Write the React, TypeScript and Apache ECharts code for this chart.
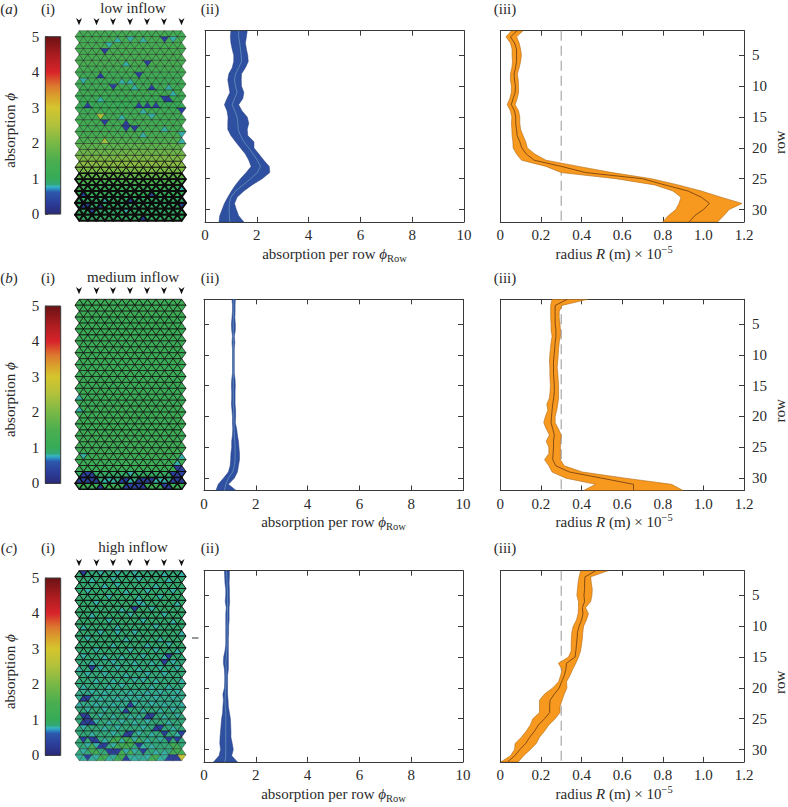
import React, { useEffect, useRef } from "react";
import * as echarts from "echarts";

const FONT = "Liberation Serif";
const INK = "#2a2a2a";
const FS = 15;

// ---- data ----
const rows = [1,2,3,4,5,6,7,8,9,10,11,12,13,14,15,16,17,18,19,20,21,22,23,24,25,26,27,28,29,30,31,32];
const rowTicks = [5,10,15,20,25,30];
const thresholdRadius = 0.3;
const panelLetters = ["a","b","c"];
const inflowLabels = ["low inflow","medium inflow","high inflow"];

const lowPhiLeft = [1.0,.98,1.0,1.05,1.11,1.11,1.05,.92,.88,.92,.96,.85,.75,.85,.89,.88,.88,1.0,1.18,1.37,1.56,1.69,1.78,1.59,1.37,1.18,1.02,.88,.75,.66,.57,.54];
const lowPhiMid = [1.3,1.3,1.34,1.37,1.4,1.41,1.3,1.18,1.14,1.18,1.24,1.14,1.05,1.15,1.24,1.27,1.28,1.37,1.5,1.69,1.86,2.02,2.14,2.02,1.76,1.47,1.18,1.0,.94,.93,.94,.96];
const lowPhiRight = [1.63,1.6,1.56,1.6,1.65,1.67,1.56,1.41,1.4,1.41,1.5,1.46,1.3,1.43,1.63,1.69,1.63,1.65,1.89,1.89,2.08,2.27,2.48,2.5,2.21,1.82,1.5,1.24,1.14,1.21,1.3,1.5];

const medPhiLeft = [1.08,1.1,1.1,1.08,1.06,1.07,1.1,1.08,1.1,1.1,1.1,1.1,1.1,1.07,1.06,1.07,1.07,1.06,1.08,1.1,1.1,1.11,1.1,1.07,1.07,1.04,1.03,1.01,.94,.75,.55,.46];
const medPhiMid = [1.15,1.15,1.15,1.13,1.13,1.13,1.13,1.13,1.13,1.13,1.13,1.13,1.13,1.13,1.13,1.13,1.13,1.13,1.15,1.15,1.16,1.16,1.17,1.19,1.2,1.2,1.2,1.17,1.11,.94,.84,.79];
const medPhiRight = [1.21,1.2,1.2,1.19,1.21,1.21,1.17,1.19,1.17,1.17,1.17,1.17,1.17,1.2,1.21,1.2,1.2,1.2,1.22,1.22,1.21,1.26,1.29,1.33,1.35,1.37,1.37,1.33,1.29,1.17,.94,1.24];

const highPhiLeft = [.79,.8,.81,.84,.84,.82,.86,.84,.84,.84,.84,.84,.84,.81,.76,.75,.79,.8,.8,.79,.73,.75,.73,.72,.68,.66,.64,.62,.61,.64,.58,.37];
const highPhiMid = [.86,.88,.89,.9,.91,.91,.91,.9,.9,.89,.89,.89,.89,.88,.86,.84,.86,.85,.85,.84,.82,.82,.82,.84,.84,.84,.84,.84,.84,.84,.84,.81];
const highPhiRight = [.98,.98,.97,.98,.98,.99,.97,.97,.97,.95,.95,.94,.94,.94,.94,.94,.94,.91,.91,.91,.91,.93,.94,.98,1.02,1.03,1.04,1.04,1.09,1.13,1.07,1.29];

const lowRadiusLeft = [.055,.028,.05,.058,.058,.06,.057,.05,.05,.055,.054,.047,.034,.05,.057,.055,.057,.058,.062,.063,.08,.105,.225,.30,.57,.76,.85,.89,.88,.864,.827,.80];
const lowRadiusMid = [.083,.05,.07,.08,.08,.08,.075,.068,.07,.075,.073,.063,.054,.07,.076,.076,.08,.083,.096,.106,.128,.167,.30,.42,.70,.81,.925,.99,1.03,1.0,.957,.93];
const lowRadiusRight = [.112,.08,.093,.10,.104,.10,.093,.084,.088,.09,.09,.083,.073,.09,.096,.096,.10,.112,.125,.133,.17,.225,.385,.55,.745,.875,.99,1.087,1.19,1.127,1.10,1.07];

const medRadiusLeft = [.255,.248,.248,.248,.25,.25,.255,.25,.247,.244,.242,.244,.244,.245,.247,.245,.242,.229,.234,.222,.214,.226,.242,.226,.239,.239,.218,.239,.255,.323,.47,.41];
const medRadiusMid = [.33,.27,.27,.27,.27,.274,.274,.27,.268,.265,.262,.262,.262,.264,.266,.266,.263,.258,.255,.252,.25,.258,.266,.262,.262,.26,.258,.274,.34,.50,.656,.656];
const medRadiusRight = [.43,.303,.29,.29,.294,.296,.296,.29,.287,.285,.283,.28,.283,.285,.287,.287,.287,.283,.278,.27,.27,.286,.30,.296,.296,.296,.296,.315,.404,.615,.843,.90];

const highRadiusLeft = [.396,.388,.383,.38,.377,.385,.385,.383,.375,.359,.352,.35,.349,.349,.336,.286,.304,.297,.287,.258,.218,.193,.193,.193,.16,.148,.128,.104,.073,.07,.05,.003];
const highRadiusMid = [.47,.417,.415,.415,.412,.415,.404,.407,.40,.388,.38,.378,.375,.372,.368,.326,.323,.315,.302,.29,.266,.245,.243,.243,.218,.188,.169,.145,.125,.096,.071,.036];
const highRadiusRight = [.53,.445,.448,.453,.451,.445,.42,.434,.424,.41,.406,.404,.40,.395,.385,.372,.356,.343,.326,.328,.315,.304,.294,.294,.27,.239,.218,.193,.177,.148,.115,.088];

// Cells of each mesh that differ from their row's mean: [row, absorption, columns]
const lowMeshCells: [number, number, number[]][] = [
  [1,.35,[20]],[3,.35,[6]],[5,.35,[16]],[7,.35,[5,14]],[9,.35,[8,17]],[11,.35,[20,21]],[12,.35,[2,14,16,18]],[13,.35,[24]],[15,.35,[6,11]],[16,.35,[11,13]],
  [27,.35,[1,17]],[28,.35,[12]],[29,.35,[1,2,5,24]],[30,.35,[3]],[31,.35,[15]],
  [1,.8,[9,12,15,22]],[2,.8,[7]],[5,.8,[11]],[8,.8,[1,10,12]],[9,.8,[13,21]],[10,.8,[22]],[11,.8,[5]],[13,.8,[15]],[14,.8,[10,17]],[16,.8,[20]],[17,.8,[15,24]],[18,.8,[24]],[26,.8,[24]],[28,.8,[6]],[30,.8,[11]],
  [14,2.5,[5]],[18,2.4,[6]],
];
const medMeshCells: [number, number, number[]][] = [
  [16,.8,[0]],[18,.8,[0]],[26,.8,[1,24]],[27,.8,[23]],[29,.8,[12]],[30,.8,[6,7,8,12,18,19,20]],
  [31,1.15,[0,1,2,3,4,6,7,8,9,10,16,17,18,19,22,23,24]],
  [28,.35,[23,24]],[29,.35,[1,2,3,22,23,24]],[30,.35,[0,1,2,3,4,10,11,14,15,16,17,22,23,24]],[31,.35,[5,11,12,13,14,15,20,21]],
];
const highMeshCells: [number, number, number[]][] = [
  [0,.8,[5,9,13,20,24]],[1,.8,[3,8,14,21]],[2,.8,[6,9,18]],[3,.8,[2,11,16,22]],[4,.8,[7,14,19]],[5,.8,[4,14,15,23]],[6,.8,[10,17]],[7,.8,[3,12,20]],
  [8,.8,[7,15,22]],[9,.8,[1,9,18]],[10,.8,[5,9,13,24]],[11,.8,[2,11,19]],[12,.8,[8,16,21]],[13,.8,[4,12,18,23]],[14,.8,[1,6,10,15,20]],[15,.8,[3,8,13,17,22]],
  [16,.8,[0,5,9,14,19,23]],[17,.8,[2,6,11,16,20]],[18,.8,[4,8,13,15,18,24]],[19,.8,[1,7,10,17,21]],[20,.8,[3,6,12,16,19,23]],[21,.8,[5,9,11,14,18,22]],
  [22,.8,[0,4,8,13,17,20,24]],[23,.8,[2,6,10,15,19,22]],[24,.8,[5,8,12,14,20,23]],[25,.8,[4,7,10,13,16,21]],[26,.8,[1,6,9,15,22]],[27,.8,[3,8,14,17,23]],
  [28,.8,[6,10,13,16,19]],[29,.8,[2,4,8,15,17]],[30,.8,[1,11,13,18,20]],[31,.8,[4,7,13,16,19]],
  [28,1.25,[8,9,11,12,14]],[29,1.25,[3,9,10,11,12,22,23]],[30,1.25,[3,4,10,12,22,23,24]],[31,1.25,[5,6,9,10,17,18]],
  [0,.35,[1]],[6,.35,[13]],[14,.35,[21]],[15,.35,[20]],[16,.35,[3]],[21,.35,[1,2]],[22,.35,[12]],[23,.35,[11]],[24,.35,[1,2,16,17]],[25,.35,[1,2,3]],
  [26,.35,[18,19]],[27,.35,[11,12,20,24]],[28,.35,[1,3,4,21,23]],[29,.35,[5,6,14]],[30,.35,[7,8,9,15]],[31,.35,[2,11,21,22,23]],
  [31,2.8,[24]],
];

const colourStops: [number, string][] = [
  [0,"#2b2a78"],[.3,"#2b3c98"],[.62,"#2d58ac"],[.7,"#2a8cc0"],[.78,"#38b6c2"],[.83,"#33a87c"],[1,"#35ab58"],[1.5,"#4bae4f"],[2,"#78b846"],
  [2.5,"#b0c13c"],[3,"#d5c52e"],[3.3,"#d9a32c"],[3.6,"#dc7a2e"],[4,"#d8242a"],[4.5,"#a81c20"],[5,"#6b1214"],
];

// ---- layout / style ----
const MESH_COLS = 25;
const tops = [30.7, 299.3, 570.7];
const plotH = 191.2;
const barTops = [36.7, 306, 578];
const barH = 177.4;
const arrowYs = [21.7, 290.7, 562.7];
const arrowXs = [79, 96.5, 113, 130, 147, 164, 181.5];
const headerYs = [9, 278, 548];
const iiLefts = [205, 204, 204];

function hexToRgb(h: string) { return [1,3,5].map(i => parseInt(h.slice(i,i+2),16)); }
function colourOf(v: number) {
  const s = colourStops;
  if (v <= s[0][0]) return s[0][1];
  for (let i = 1; i < s.length; i++) {
    if (v <= s[i][0]) {
      const t = (v - s[i-1][0])/(s[i][0]-s[i-1][0]);
      const a = hexToRgb(s[i-1][1]), b = hexToRgb(s[i][1]);
      return `rgb(${a.map((x,k)=>Math.round(x+(b[k]-x)*t)).join(",")})`;
    }
  }
  return s[s.length-1][1];
}

function buildOption() {
  const grid: any[] = [], xAxis: any[] = [], yAxis: any[] = [], series: any[] = [], graphic: any[] = [];
  const axisBase = {
    axisLine: { show: true, onZero: false, lineStyle: { color: "#3a3a3a", width: 1 } },
    splitLine: { show: false },
  };
  const hiddenAxis = (min: number, max: number, inverse = false) => ({ type: "value", show: false, min, max, inverse, splitLine: { show: false } });
  const addX = (a: any) => { xAxis.push(a); return xAxis.length - 1; };
  const addY = (a: any) => { yAxis.push(a); return yAxis.length - 1; };

  const phiBands = [[lowPhiLeft,lowPhiMid,lowPhiRight],[medPhiLeft,medPhiMid,medPhiRight],[highPhiLeft,highPhiMid,highPhiRight]];
  const radBands = [[lowRadiusLeft,lowRadiusMid,lowRadiusRight],[medRadiusLeft,medRadiusMid,medRadiusRight],[highRadiusLeft,highRadiusMid,highRadiusRight]];
  const meshCells = [lowMeshCells, medMeshCells, highMeshCells];

  const band = (xi: number, yi: number, b: number[][], fill: string, edge: string, mid: string, edgeW: number, midW: number) => {
    const [L, M, R] = b;
    series.push({
      type: "custom", xAxisIndex: xi, yAxisIndex: yi, silent: true, clip: true, z: 3,
      data: rows.map((r, i) => [L[i], R[i], r]),
      renderItem: (p: any, api: any) => {
        if (p.dataIndex !== 0) return null;
        const pts = [
          ...rows.map((r, i) => api.coord([L[i], r])),
          ...rows.slice().reverse().map((r) => api.coord([R[r-1], r])),
        ];
        return { type: "polygon", shape: { points: pts }, style: { fill, stroke: edge, lineWidth: edgeW } };
      },
    });
    series.push({
      type: "line", xAxisIndex: xi, yAxisIndex: yi, silent: true, showSymbol: false, z: 4,
      data: rows.map((r, i) => [M[i], r]),
      lineStyle: { color: mid, width: midW },
    });
  };

  tops.forEach((top, k) => {
    // colour bar
    grid.push({ left: 45.3, width: 15.4, top: barTops[k], height: barH, show: false });
    let gi = grid.length - 1;
    const cbX = addX({ ...hiddenAxis(0, 1), gridIndex: gi });
    const cbY = addY({
      ...axisBase, type: "value", gridIndex: gi, min: 0, max: 5, interval: 1, position: "left",
      axisTick: { show: true, inside: true, length: 3, lineStyle: { color: "#3a3a3a", width: .8 } },
      axisLabel: { color: INK, fontFamily: FONT, fontSize: FS, margin: 6, padding: [0,0,4,0] },
      name: "{t|absorption }{p|\u03d5}", nameLocation: "middle", nameGap: 28, nameRotate: 90,
      nameTextStyle: {
        color: INK, fontFamily: FONT, fontSize: FS, padding: [0,10,0,0],
        rich: { t: { fontFamily: FONT, fontSize: FS, color: INK }, p: { fontFamily: FONT, fontSize: FS, fontStyle: "italic", color: INK } },
      },
    });
    series.push({
      type: "custom", xAxisIndex: cbX, yAxisIndex: cbY, silent: true, z: 1, data: [[0, 0]],
      renderItem: (_: any, api: any) => {
        const a = api.coord([0, 5]), b = api.coord([1, 0]);
        return {
          type: "rect", shape: { x: a[0], y: a[1], width: b[0]-a[0], height: b[1]-a[1] },
          style: {
            stroke: "#3a3a3a", lineWidth: 1,
            fill: new echarts.graphic.LinearGradient(0, 1, 0, 0, colourStops.map(([v, c]) => ({ offset: v / 5, color: c }))),
          },
        };
      },
    });
    // triangular mesh
    grid.push({ left: 75, width: 111, top: top, height: 190, show: false });
    gi = grid.length - 1;
    const mX = addX({ ...hiddenAxis(0, MESH_COLS + 1), gridIndex: gi });
    const mY = addY({ ...hiddenAxis(0, rows.length, true), gridIndex: gi });
    const base = phiBands[k][1];
    const radii = radBands[k][1];
    const cellValues = rows.map((_, r) => new Array(MESH_COLS).fill(base[r]));
    meshCells[k].forEach(([r, v, cols]) => cols.forEach((c) => { cellValues[r][c] = v; }));
    const meshData: number[][] = [];
    cellValues.forEach((row, r) => row.forEach((v, c) => meshData.push([c, r, v])));
    series.push({
      type: "custom", xAxisIndex: mX, yAxisIndex: mY, silent: true, clip: false, z: 2, data: meshData,
      renderItem: (_: any, api: any) => {
        const c = api.value(0), r = api.value(1), v = api.value(2);
        const up = (c + r) % 2 === 0;
        const pts = up
          ? [[c, r+1],[c+2, r+1],[c+1, r]]
          : [[c, r],[c+2, r],[c+1, r+1]];
        return {
          type: "polygon",
          shape: { points: pts.map((q) => api.coord(q)) },
          style: { fill: colourOf(v), stroke: "#0d0d0d", lineWidth: 0.22 + 1.8 * radii[r], lineJoin: "round" },
        };
      },
    });

    // panel (ii)
    grid.push({ left: iiLefts[k], width: 259, top, height: plotH, show: false });
    gi = grid.length - 1;
    const tickStyle = { show: true, inside: true, length: 5, lineStyle: { color: "#3a3a3a", width: 1 } };
    const iiX = addX({
      ...axisBase, type: "value", gridIndex: gi, position: "bottom", min: 0, max: 10, interval: 2, axisTick: tickStyle,
      axisLabel: { color: INK, fontFamily: FONT, fontSize: FS, margin: 6 },
      name: "{t|absorption per row }{p|\u03d5}{s|Row}", nameLocation: "middle", nameGap: 21,
      nameTextStyle: {
        color: INK, fontFamily: FONT, fontSize: FS, lineHeight: 20,
        rich: {
          t: { fontFamily: FONT, fontSize: FS, color: INK, lineHeight: 20 },
          p: { fontFamily: FONT, fontSize: FS, fontStyle: "italic", color: INK, lineHeight: 20 },
          s: { fontFamily: FONT, fontSize: 10.5, color: INK, verticalAlign: "bottom", lineHeight: 10 },
        },
      },
    });
    addX({ ...axisBase, type: "value", gridIndex: gi, position: "top", min: 0, max: 10, interval: 2, axisTick: tickStyle, axisLabel: { show: false } });
    const iiY = addY({
      ...axisBase, type: "value", gridIndex: gi, position: "left", min: 1, max: 32, inverse: true,
      axisTick: { ...tickStyle, customValues: rowTicks }, axisLabel: { show: false },
    });
    addY({
      ...axisBase, type: "value", gridIndex: gi, position: "right", min: 1, max: 32, inverse: true,
      axisTick: { ...tickStyle, customValues: rowTicks }, axisLabel: { show: false },
    });
    band(iiX, iiY, phiBands[k], "#2f4fa0", "#25407f", "#6f9fc0", .5, .7);

    // panel (iii)
    grid.push({ left: 500.3, width: 246.4, top, height: plotH, show: false });
    gi = grid.length - 1;
    const iiiX = addX({
      ...axisBase, type: "value", gridIndex: gi, position: "bottom", min: 0, max: 1.2, interval: .2, axisTick: tickStyle,
      axisLabel: { color: INK, fontFamily: FONT, fontSize: FS, margin: 6, formatter: (v: number) => (v === 0 ? "0" : v.toFixed(1)) },
      name: "{t|radius }{i|R}{t| (m) \u00d7 10}{u|\u22125}", nameLocation: "middle", nameGap: 21,
      nameTextStyle: {
        color: INK, fontFamily: FONT, fontSize: FS, lineHeight: 20, padding: [0,16,0,0],
        rich: {
          t: { fontFamily: FONT, fontSize: FS, color: INK, lineHeight: 20 },
          i: { fontFamily: FONT, fontSize: FS, fontStyle: "italic", color: INK, lineHeight: 20 },
          u: { fontFamily: FONT, fontSize: 10.5, color: INK, verticalAlign: "top", lineHeight: 10 },
        },
      },
    });
    addX({ ...axisBase, type: "value", gridIndex: gi, position: "top", min: 0, max: 1.2, interval: .2, axisTick: tickStyle, axisLabel: { show: false } });
    const iiiY = addY({
      ...axisBase, type: "value", gridIndex: gi, position: "right", min: 1, max: 32, inverse: true,
      axisTick: { ...tickStyle, customValues: rowTicks },
      axisLabel: { color: INK, fontFamily: FONT, fontSize: FS, margin: 8, customValues: rowTicks },
      name: "row", nameLocation: "middle", nameGap: 28, nameRotate: 90,
      nameTextStyle: { color: INK, fontFamily: FONT, fontSize: FS, padding: [0,32,0,0] },
    });
    addY({ ...axisBase, type: "value", gridIndex: gi, position: "left", min: 1, max: 32, inverse: true, axisTick: { show: false }, axisLabel: { show: false } });
    series.push({
      type: "line", xAxisIndex: iiiX, yAxisIndex: iiiY, silent: true, showSymbol: false, z: 2,
      data: [[thresholdRadius, rows[0]], [thresholdRadius, rows[rows.length-1]]],
      lineStyle: { color: "#a8a8a8", width: 1.2, type: [10, 5] },
    });
    band(iiiX, iiiY, radBands[k], "#f7981f", "#b06a14", "#6a3a10", .6, .8);

    // annotations
    const txt = (x: number, y: number, text: string, extra: any = {}) => graphic.push({
      type: "text", x, y, silent: true,
      style: { text, fontFamily: FONT, fontSize: FS, fill: INK, textAlign: "center", textVerticalAlign: "middle", ...extra },
    });
    txt(9, headerYs[k], `({i|${panelLetters[k]}})`, { rich: { i: { fontFamily: FONT, fontSize: FS, fontStyle: "italic", fill: INK } } });
    txt(48, headerYs[k], "(i)");
    txt(133, headerYs[k] - 1, inflowLabels[k]);
    txt(210, headerYs[k], "(ii)");
    txt(505, headerYs[k], "(iii)");
    arrowXs.forEach((ax) => graphic.push({
      type: "polygon", silent: true,
      shape: { points: [[ax-3, arrowYs[k]-3.6],[ax, arrowYs[k]-1.5],[ax+3, arrowYs[k]-3.6],[ax, arrowYs[k]+3.6]] },
      style: { fill: "#111" },
    }));
  });

  graphic.push({ type: "line", silent: true, shape: { x1: 192, y1: 638, x2: 198.5, y2: 638 }, style: { stroke: "#333", lineWidth: 1 } });

  return { animation: false, backgroundColor: "#fff", textStyle: { fontFamily: FONT }, grid, xAxis, yAxis, series, graphic };
}

export default function App() {
  const ref = useRef<HTMLDivElement>(null);
  useEffect(() => {
    document.body.style.margin = "0";
    const chart = echarts.init(ref.current!, undefined, { renderer: "svg" });
    chart.setOption(buildOption() as any);
    return () => chart.dispose();
  }, []);
  return <div ref={ref} style={{ width: 788, height: 807 }} />;
}
